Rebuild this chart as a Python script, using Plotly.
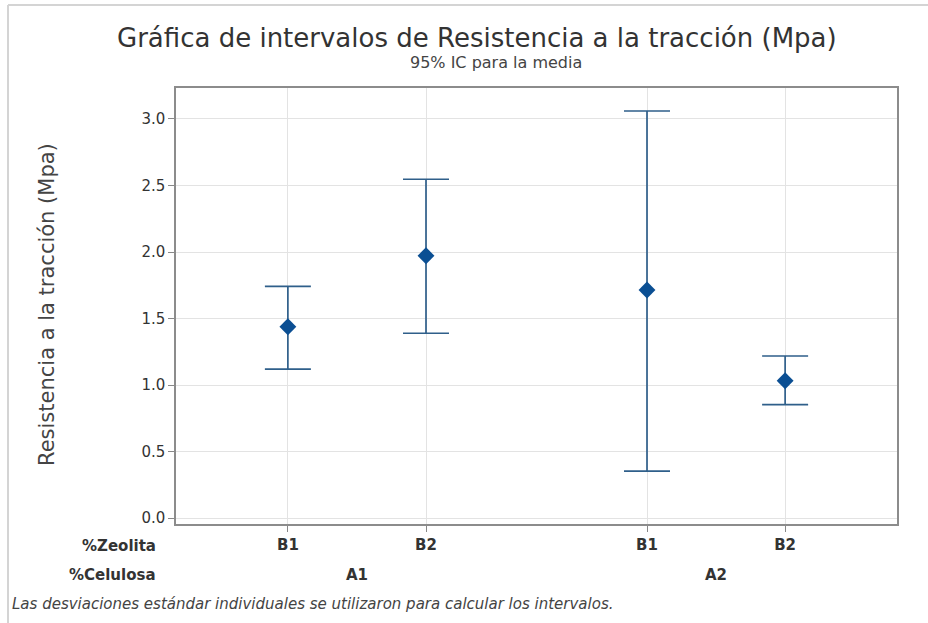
import plotly.graph_objects as go

# Interval plot data: tensile strength means with 95% CI bounds
zeolita = ["B1", "B2", "B1", "B2"]
celulosa = ["A1", "A2"]
media = [1.438, 1.972, 1.714, 1.032]
ic_sup = [1.742, 2.547, 3.060, 1.218]
ic_inf = [1.120, 1.389, 0.353, 0.852]
y_ticks = [0.0, 0.5, 1.0, 1.5, 2.0, 2.5, 3.0]

# x positions: groups separated by a wider gap
xpos = [1.0, 2.0, 3.6, 4.6]

W, H = 928, 623
L, R, T, B = 176, 31, 88, 99
pw, ph = W - L - R, H - T - B


def px_to_paper_x(px):
    return (px - L) / pw


def px_to_paper_y(py):
    return (H - B - py) / ph


err_plus = [s - m for s, m in zip(ic_sup, media)]
err_minus = [m - i for m, i in zip(media, ic_inf)]

fig = go.Figure()
fig.add_trace(go.Scatter(
    x=xpos, y=media, mode="markers",
    marker=dict(symbol="diamond", size=13, color="#0b4f93"),
    error_y=dict(type="data", symmetric=False, array=err_plus,
                 arrayminus=err_minus, color="#2f5f8a", thickness=1.7, width=23),
    showlegend=False, hoverinfo="y",
))

font_main = "DejaVu Sans, sans-serif"

fig.update_layout(
    width=W, height=H,
    margin=dict(l=L, r=R, t=T, b=B),
    paper_bgcolor="white", plot_bgcolor="white",
    font=dict(family=font_main, color="#333333"),
    xaxis=dict(
        range=[0.19, 5.41], tickmode="array", tickvals=xpos, ticktext=zeolita,
        showgrid=True, gridcolor="#e3e3e3", gridwidth=1,
        ticks="outside", ticklen=6, tickcolor="#888888",
        showline=True, linecolor="#8c8c8c", linewidth=1.5, mirror=True,
        zeroline=False, tickfont=dict(size=15, color="#333333", weight="bold"),
    ),
    yaxis=dict(
        range=[-0.045, 3.233], tickmode="array", tickvals=y_ticks,
        ticktext=[f"{v:.1f}" for v in y_ticks],
        showgrid=True, gridcolor="#e3e3e3", gridwidth=1,
        ticks="outside", ticklen=6, tickcolor="#888888",
        showline=True, linecolor="#8c8c8c", linewidth=1.5, mirror=True,
        zeroline=False, tickfont=dict(size=15, color="#333333"),
    ),
)

annotations = [
    dict(text="Gráfica de intervalos de Resistencia a la tracción (Mpa)",
         x=px_to_paper_x(477), y=px_to_paper_y(38), xref="paper", yref="paper",
         showarrow=False, xanchor="center", yanchor="middle",
         font=dict(size=26, color="#333333")),
    dict(text="95% IC para la media",
         x=px_to_paper_x(496), y=px_to_paper_y(62), xref="paper", yref="paper",
         showarrow=False, xanchor="center", yanchor="middle",
         font=dict(size=16, color="#444444")),
    dict(text="Resistencia a la tracción (Mpa)",
         x=px_to_paper_x(47), y=px_to_paper_y(305), xref="paper", yref="paper",
         showarrow=False, xanchor="center", yanchor="middle", textangle=-90,
         font=dict(size=21, color="#444444")),
    dict(text="%Zeolita", x=px_to_paper_x(158), y=px_to_paper_y(546),
         xref="paper", yref="paper", showarrow=False,
         xanchor="right", yanchor="middle",
         font=dict(size=15, color="#333333", weight="bold")),
    dict(text="%Celulosa", x=px_to_paper_x(158), y=px_to_paper_y(575),
         xref="paper", yref="paper", showarrow=False,
         xanchor="right", yanchor="middle",
         font=dict(size=15, color="#333333", weight="bold")),
    dict(text="<i>Las desviaciones estándar individuales se utilizaron para calcular los intervalos.</i>",
         x=px_to_paper_x(10), y=px_to_paper_y(604), xref="paper", yref="paper",
         showarrow=False, xanchor="left", yanchor="middle",
         font=dict(size=15, color="#444444")),
]

# second-level category labels centered under each group
for i, grp in enumerate(celulosa):
    xc = (xpos[2 * i] + xpos[2 * i + 1]) / 2
    annotations.append(dict(
        text=grp, x=xc, y=px_to_paper_y(575), xref="x", yref="paper",
        showarrow=False, xanchor="center", yanchor="middle",
        font=dict(size=15, color="#333333", weight="bold")))

fig.update_layout(annotations=annotations)

# light outer frame along the top and left edges
fig.add_shape(type="line", xref="paper", yref="paper",
              x0=px_to_paper_x(8), x1=px_to_paper_x(W), y0=px_to_paper_y(5), y1=px_to_paper_y(5),
              line=dict(color="#d4d4d4", width=2))
fig.add_shape(type="line", xref="paper", yref="paper",
              x0=px_to_paper_x(8), x1=px_to_paper_x(8), y0=px_to_paper_y(5), y1=px_to_paper_y(H),
              line=dict(color="#d4d4d4", width=2))

fig.write_html("out.html")
